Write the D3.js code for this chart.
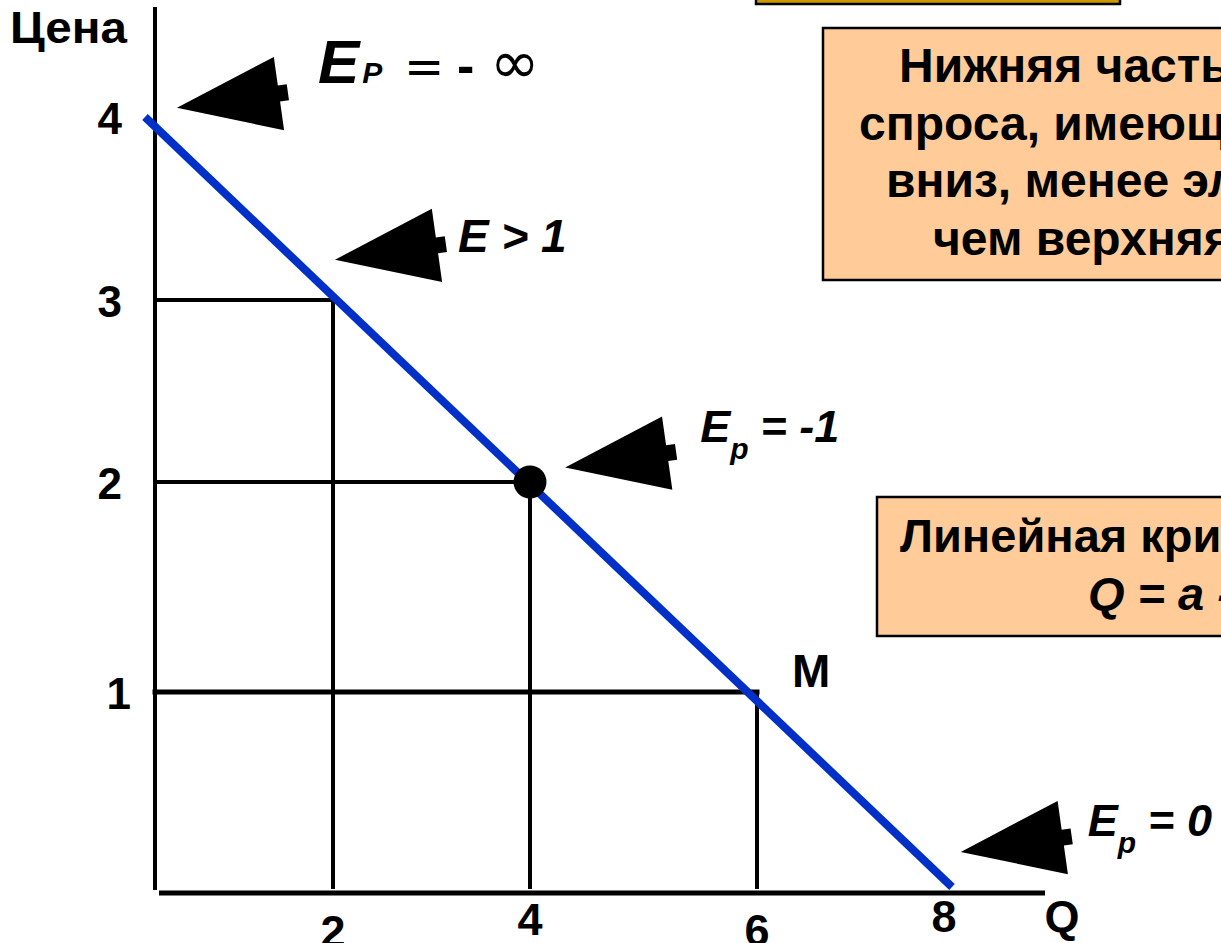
<!DOCTYPE html>
<html>
<head>
    <meta charset="utf-8"/>
    <title>Эластичность линейной кривой спроса</title>
    <style>
        body {
            margin: 0;
            background-color: #fff;
            overflow: hidden;
        }

        svg {
            display: block;
        }

        text {
            font-family: "Liberation Sans", Arial, Helvetica, sans-serif;
            font-weight: bold;
            fill: #000;
        }

        .it {
            font-style: italic;
        }

        .note {
            fill: #ffcc99;
            stroke: #000;
            stroke-width: 2.5px;
        }

        .grid {
            stroke: #000;
            stroke-width: 4px;
            stroke-linecap: square;
        }

        .demand {
            stroke: #0030c8;
            stroke-width: 8px;
            fill: none;
        }
    </style>
    <script src="https://cdnjs.cloudflare.com/ajax/libs/d3/7.8.5/d3.min.js"></script>
</head>
<body>
<svg id="viz" width="1221" height="943"></svg>
<script>

// data
const quantityTicks = [2, 4, 6, 8];
const priceTicks = [1, 2, 3, 4];
const demandCurve = [{q: 0, p: 4}, {q: 8, p: 0}];
const pricePoints = [{q: 2, p: 3}, {q: 4, p: 2}, {q: 6, p: 1}];
const unitPoint = {q: 4, p: 2};
const pointM = {q: 6, p: 1, label: 'M'};
// where each black arrow points, in (Q, P) units
const arrowTips = [
    {id: 'inf',  q: 0.34, p: 4.05},
    {id: 'gt1',  q: 2.02, p: 3.22},
    {id: 'one',  q: 4.31, p: 2.08},
    {id: 'zero', q: 8.09, p: 0.18}
];
const noteLines = ['Нижняя часть кривой', 'спроса, имеющей наклон', 'вниз, менее эластична,', 'чем верхняя часть'];
const linearLines = ['Линейная кривая спроса', 'Q = a - bP'];

const svg = d3.select('svg'),
    width = +svg.attr('width'),
    height = +svg.attr('height');

// the slide is hand drawn, so the scales are piecewise
const x = d3.scaleLinear().domain([0, 2, 4, 6, 8]).range([145, 333, 530, 757, 952]);
const y = d3.scaleLinear().domain([0, 1, 2, 3, 4]).range([887, 692, 482, 300, 117]);

const axisX = x(0) + 10;      // vertical axis
const axisY = y(0) + 6;       // horizontal axis
const gridBottom = y(0) + 2;

// boxes behind everything
svg.append('rect')
    .attr('x', 756).attr('y', -40)
    .attr('width', 364).attr('height', 44)
    .attr('fill', '#cc9900').attr('stroke', '#000').attr('stroke-width', 2.5);

const noteBox = svg.append('g');
noteBox.append('rect').attr('class', 'note')
    .attr('x', 823).attr('y', 28).attr('width', 600).attr('height', 252);
const noteStarts = [899, 859, 886, 933];
noteBox.selectAll('text')
    .data(noteLines)
    .enter().append('text')
    .attr('x', (d, i) => noteStarts[i])
    .attr('y', (d, i) => 82 + i * 57.5)
    .style('font-size', '48px')
    .text(d => d);

const linBox = svg.append('g');
linBox.append('rect').attr('class', 'note')
    .attr('x', 877).attr('y', 497).attr('width', 600).attr('height', 139);
const linStarts = [900, 1088];
linBox.selectAll('text')
    .data(linearLines)
    .enter().append('text')
    .attr('class', (d, i) => i == 1 ? 'it' : null)
    .attr('x', (d, i) => linStarts[i])
    .attr('y', (d, i) => 552 + i * 58)
    .style('font-size', '47px')
    .text(d => d);

// axes
svg.append('line')
    .attr('x1', axisX).attr('x2', axisX)
    .attr('y1', 7).attr('y2', axisY - 3)
    .attr('stroke', '#000').attr('stroke-width', 4);

svg.append('line')
    .attr('x1', axisX + 4).attr('x2', 1045)
    .attr('y1', axisY).attr('y2', axisY)
    .attr('stroke', '#000').attr('stroke-width', 5);

// dropped lines to the axes
pricePoints.forEach(d => {
    svg.append('line').attr('class', 'grid')
        .attr('x1', axisX).attr('x2', x(d.q))
        .attr('y1', y(d.p)).attr('y2', y(d.p))
        .style('stroke-width', d.p == 1 ? '5px' : null);
    svg.append('line').attr('class', 'grid')
        .attr('x1', x(d.q)).attr('x2', x(d.q))
        .attr('y1', y(d.p)).attr('y2', gridBottom)
        .style('stroke-linecap', 'butt');
});

// demand line
svg.append('path')
    .datum(demandCurve)
    .attr('class', 'demand')
    .attr('d', d3.line().x(d => x(d.q)).y(d => y(d.p)));

svg.append('circle')
    .attr('cx', x(unitPoint.q))
    .attr('cy', y(unitPoint.p))
    .attr('r', 16.5)
    .attr('fill', '#000');

// tick labels (the slide has them a little uneven)
svg.selectAll('.ptick')
    .data(priceTicks)
    .enter().append('text')
    .attr('class', 'ptick')
    .attr('x', d => d == 1 ? 131 : 122)
    .attr('y', d => y(d) + 17)
    .attr('text-anchor', 'end')
    .style('font-size', '44px')
    .text(d => d);

const qLabelDy = [8, -4, 7, -7];
svg.selectAll('.qtick')
    .data(quantityTicks)
    .enter().append('text')
    .attr('class', 'qtick')
    .attr('x', d => x(d) - (d == 8 ? 8 : 0))
    .attr('y', (d, i) => 939 + qLabelDy[i])
    .attr('text-anchor', 'middle')
    .style('font-size', '45px')
    .text(d => d);

svg.append('text')
    .attr('x', 1062).attr('y', 932)
    .attr('text-anchor', 'middle')
    .style('font-size', '45px')
    .text('Q');

svg.append('text')
    .attr('x', 10).attr('y', 43)
    .style('font-size', '44px')
    .attr('textLength', 117)
    .attr('lengthAdjust', 'spacingAndGlyphs')
    .text('Цена');

svg.append('text')
    .attr('x', x(pointM.q) + 35).attr('y', y(pointM.p) - 5)
    .style('font-size', '46px')
    .text(pointM.label);

// black block arrows, tip at origin, pointing left
const L = 103, H = 37, h = 8, s = 9;
const arrowShape = [[0, 0], [L, -H], [L, -h], [L + s, -h], [L + s, h], [L, h], [L, H]];

svg.selectAll('.arrow')
    .data(arrowTips)
    .enter().append('path')
    .attr('class', 'arrow')
    .attr('d', d3.line()(arrowShape) + 'Z')
    .attr('fill', '#000')
    .attr('transform', d => `translate(${x(d.q)},${y(d.p)}) rotate(-8)`);

// arrow labels
const labelOffset = {inf: [141, -25], gt1: [123, -8], one: [135, -25], zero: [127, -16]};
const tip = id => {
    const t = arrowTips.find(a => a.id == id);
    return [x(t.q) + labelOffset[id][0], y(t.p) + labelOffset[id][1]];
};

// E_P = - infinity
let [lx, ly] = tip('inf');
const infLabel = svg.append('text').attr('x', lx).attr('y', ly);
infLabel.append('tspan').attr('class', 'it').style('font-size', '62px').text('E');
infLabel.append('tspan').attr('class', 'it').style('font-size', '30px').attr('dx', 3).text('P');
infLabel.append('tspan').attr('x', lx + 86).style('font-weight', 'normal')
    .style('font-family', 'DejaVu Sans').style('font-size', '48px').text('=');
infLabel.append('tspan').attr('x', lx + 139).style('font-size', '52px').text('-');
infLabel.append('tspan').attr('x', lx + 172).style('font-weight', 'normal')
    .style('font-family', 'DejaVu Sans').style('font-size', '60px').text('∞');

// E > 1
[lx, ly] = tip('gt1');
svg.append('text').attr('class', 'it')
    .attr('x', lx).attr('y', ly)
    .style('font-size', '46px')
    .text('E > 1');

// E_p = -1 and E_p = 0
[['one', '= -1'], ['zero', '= 0']].forEach(([id, rest]) => {
    const [ax, ay] = tip(id);
    const t = svg.append('text').attr('class', 'it').attr('x', ax).attr('y', ay)
        .style('font-size', '45px');
    t.append('tspan').text('E');
    t.append('tspan').attr('dy', 17).style('font-size', '30px').text('p');
    t.append('tspan').attr('dy', -17).attr('dx', 12).text(rest);
});

</script>
</body>
</html>
